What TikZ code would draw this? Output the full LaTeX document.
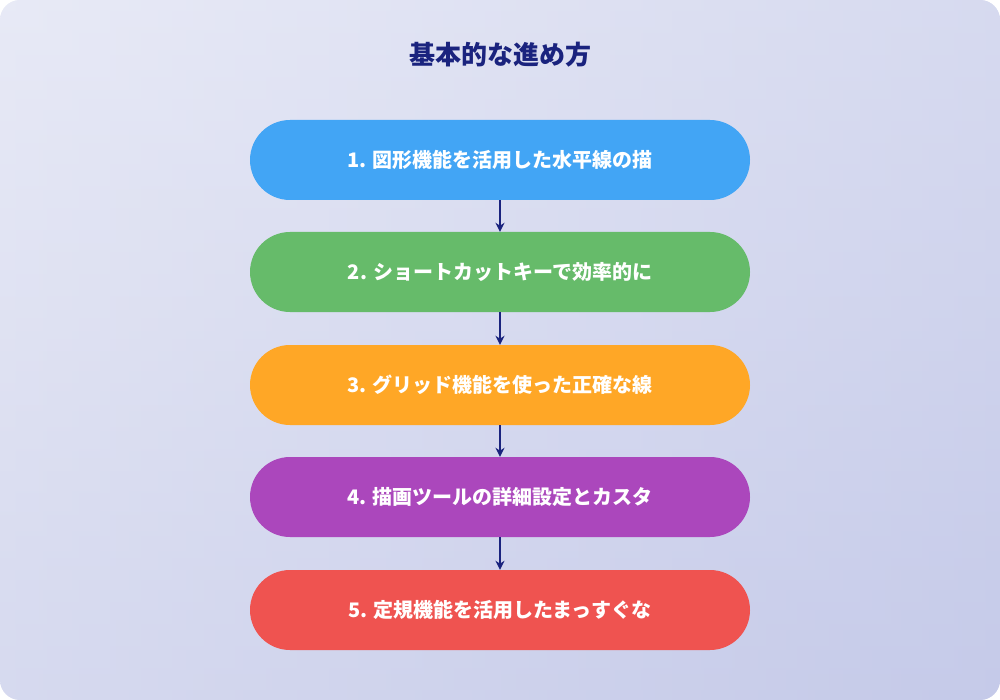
\documentclass[tikz,border=0pt]{standalone}
\usepackage{fontspec}
\setmainfont{Noto Sans CJK JP}
\usetikzlibrary{arrows.meta}
\definecolor{bgA}{HTML}{E8EAF6}
\definecolor{bgB}{HTML}{C5CAE9}
\definecolor{navy}{HTML}{1A237E}
\definecolor{cA}{HTML}{42A5F5}
\definecolor{cB}{HTML}{66BB6A}
\definecolor{cC}{HTML}{FFA726}
\definecolor{cD}{HTML}{AB47BC}
\definecolor{cE}{HTML}{EF5350}
\begin{document}
\begin{tikzpicture}[x=1pt,y=-1pt,
  stepbox/.style={rounded corners=40pt,minimum width=500pt,minimum height=80pt,inner sep=0pt,
    text=white,font=\fontsize{20pt}{24pt}\selectfont\bfseries},
  conn/.style={navy,line width=2.5pt,-{Stealth[length=9pt,width=9pt]}}]
\useasboundingbox (0,0) rectangle (1000,700);
\shade[left color=bgA,right color=bgB,rounded corners=20pt] (0,0) rectangle (1000,700);
\shade[top color=bgA,bottom color=bgB,rounded corners=20pt,opacity=0.5] (0,0) rectangle (1000,700);
\node[text=navy,font=\fontsize{26pt}{30pt}\selectfont\bfseries] (title) at (500,55) {基本的な進め方};
\node[stepbox,fill=cA] (s1) at (500,160) {1. 図形機能を活用した水平線の描};
\node[stepbox,fill=cB] (s2) at (500,272) {2. ショートカットキーで効率的に};
\node[stepbox,fill=cC] (s3) at (500,385) {3. グリッド機能を使った正確な線};
\node[stepbox,fill=cD] (s4) at (500,497) {4. 描画ツールの詳細設定とカスタ};
\node[stepbox,fill=cE] (s5) at (500,610) {5. 定規機能を活用したまっすぐな};
\draw[conn] (s1) -- (s2);
\draw[conn] (s2) -- (s3);
\draw[conn] (s3) -- (s4);
\draw[conn] (s4) -- (s5);
\end{tikzpicture}
\end{document}
